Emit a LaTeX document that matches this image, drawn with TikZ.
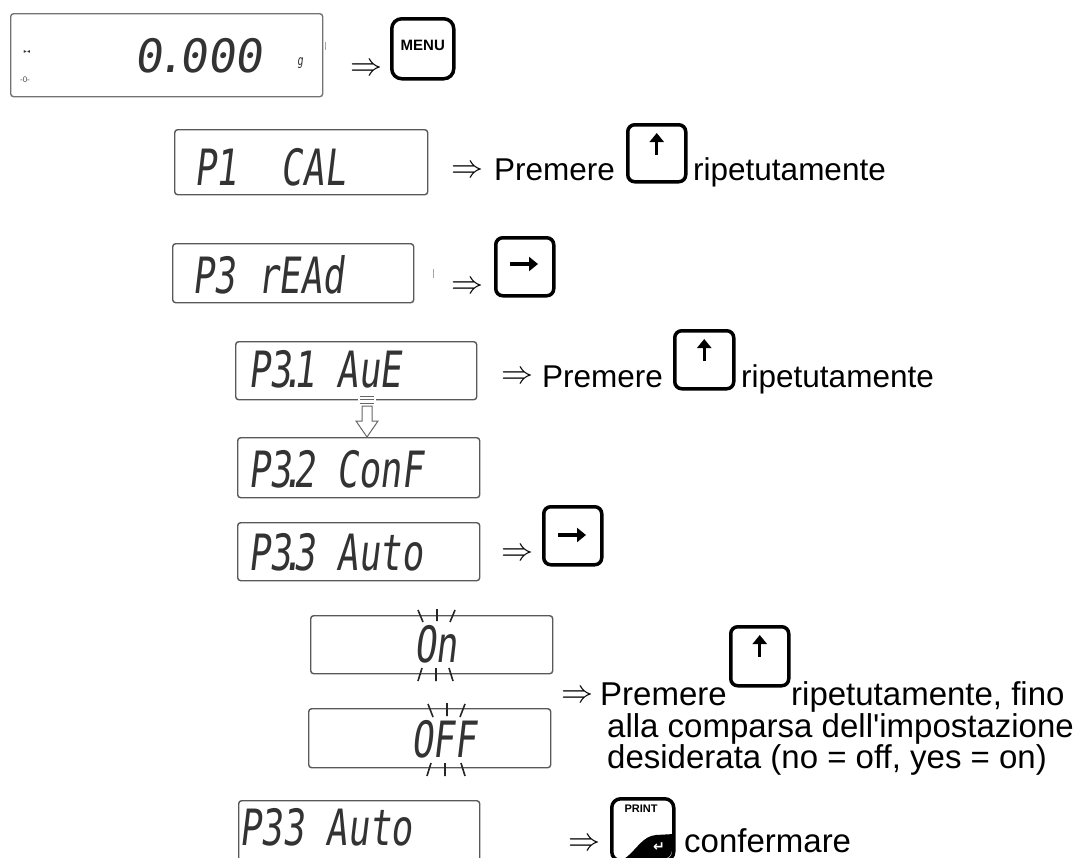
\documentclass[tikz,border=0pt]{standalone}
\usepackage{graphicx}
\usepackage{fontspec}
\usetikzlibrary{arrows.meta}
\setmainfont{Liberation Sans}
\newfontfamily\lcd[FakeSlant=0.12,FakeStretch=0.72]{DejaVu Sans Mono}
\newfontfamily\lcdw[FakeSlant=0.14]{DejaVu Sans Mono}
\newfontfamily\symf{DejaVu Sans}
\newcommand\ld{\kern-10pt.\kern-10pt}
\newcommand\implies{\scalebox{3.2}{$\Rightarrow$}}
\tikzset{
  lcdbox/.style={draw=black!65, line width=1.4pt, rounded corners=3pt, fill=white, inner sep=0pt, anchor=north west},
  keybox/.style={draw=black, line width=3.5pt, rounded corners=7pt, inner sep=0pt, anchor=north west},
  lcdtxt/.style={font=\lcd\fontsize{50}{50}\selectfont, text=black!80, inner sep=0pt, anchor=base west},
  lbl/.style={font=\fontsize{31.5}{36}\selectfont, inner sep=0pt, anchor=base west},
  lblb/.style={font=\fontsize{33}{36}\selectfont, inner sep=0pt, anchor=base west},
  imp/.style={inner sep=0pt},
  keyarrow/.style={line width=3.2pt, -{Triangle[width=14pt,length=9pt]}},
  flash/.style={line width=1.6pt, draw=black!85},
  tick/.style={line width=1pt, draw=black!35},
}
\begin{document}
\begin{tikzpicture}[x=1pt,y=-1pt]
\useasboundingbox (0,0) rectangle (1087,857);
\fill[white] (0,0) rectangle (1087,857);
\clip (0,0) rectangle (1087,857);

% ---------- row 0 : weighing display ----------
\node[lcdbox, draw=black!55, minimum width=312pt, minimum height=83pt] (b0) at (10,13) {};
\node[lcdtxt, font=\lcdw\fontsize{46}{46}\selectfont] (t0) at (134,72) {0\kern-5pt.\kern-5pt000};
\node[lcdtxt, font=\lcd\fontsize{14}{14}\selectfont] (tg) at (297,65) {g};
\node[inner sep=0pt, font=\symf\fontsize{6}{6}\selectfont, text=black!80] (stab) at (27,52) {▸◂};
\node[inner sep=0pt, font=\fontsize{8}{8}\selectfont, text=black!70] (zero) at (25,80) {-0-};
\draw[tick] (325,42) -- (325,50);
\node[imp] (a0) at (366,70) {\implies};
\node[keybox, minimum width=62pt, minimum height=60pt, rounded corners=10pt] (kmenu) at (390,17) {};
\node[inner sep=0pt, font=\bfseries\fontsize{15}{15}\selectfont] (menut) at ([yshift=3pt]kmenu.center) {MENU};

% ---------- row 1 : P1 CAL ----------
\node[lcdbox, minimum width=253pt, minimum height=65pt] (b1) at (174,129) {};
\node[lcdtxt] (t1) at (194,185) {P1\ \ CAL};
\node[imp] (a1) at (467,172) {\implies};
\node[lbl] (p1) at (494,180) {Premere};
\node[keybox, minimum width=58pt, minimum height=57pt] (k1) at (626,123) {};
\draw[keyarrow] ([yshift=-32pt]k1.north) -- ([yshift=-10pt]k1.north);
\node[lbl] (r1) at (693,180) {ripetutamente};

% ---------- row 2 : P3 rEAd ----------
\node[lcdbox, minimum width=241pt, minimum height=59pt] (b2) at (172,243) {};
\node[lcdtxt] (t2) at (192,293) {P3 rEAd};
\draw[tick] (433,269) -- (433,278);
\node[imp] (a2) at (467,288) {\implies};
\node[keybox, minimum width=58pt, minimum height=58pt] (k2) at (494,236) {};
\draw[keyarrow] ([xshift=16pt,yshift=-28pt]k2.north west) -- ([xshift=44pt,yshift=-28pt]k2.north west);

% ---------- row 3 : P3.1 AuE ----------
\node[lcdbox, minimum width=241pt, minimum height=58pt] (b31) at (235,341) {};
\node[lcdtxt] (t31) at (248,387) {P3\ld1 AuE};
\node[imp] (a31) at (517,378) {\implies};
\node[lbl] (p31) at (542,387) {Premere};
\node[keybox, minimum width=59pt, minimum height=58pt] (k31) at (673,329) {};
\draw[keyarrow] ([yshift=-32pt]k31.north) -- ([yshift=-10pt]k31.north);
\node[lbl] (r31) at (741,387) {ripetutamente};

% ---------- row 4 : P3.2 ConF ----------
\node[lcdbox, minimum width=242pt, minimum height=60pt] (b32) at (237,437) {};
\node[lcdtxt] (t32) at (248,487) {P3\ld2 ConF};

% hollow arrow between P3.1 and P3.2
\fill[white] (358,394) rectangle (376,405);
\draw[black!60, line width=1pt] (360,396) -- (374,396) (360,399.5) -- (374,399.5) (360,403) -- (374,403);
\draw[black!60, line width=1pt, fill=white] (362,406) -- (372,406) -- (372,421) -- (378,421) -- (367,437) -- (356,421) -- (362,421) -- cycle;

% ---------- row 5 : P3.3 Auto ----------
\node[lcdbox, minimum width=242pt, minimum height=58pt] (b33) at (237,522) {};
\node[lcdtxt] (t33) at (248,570) {P3\ld3 Auto};
\node[imp] (a33) at (517,555) {\implies};
\node[keybox, minimum width=58pt, minimum height=58pt] (k33) at (542,505) {};
\draw[keyarrow] ([xshift=16pt,yshift=-30pt]k33.north west) -- ([xshift=44pt,yshift=-30pt]k33.north west);

% ---------- row 6 : On ----------
\node[lcdbox, minimum width=242pt, minimum height=58pt] (bon) at (310,615) {};
\node[lcdtxt] (ton) at (414,662) {On};
\draw[flash] (418,610) -- (423,622) (437,609) -- (437,621) (455,610) -- (450,622);
\draw[flash] (422,668) -- (418,681) (436,668) -- (436,681) (449,668) -- (453,681);

% ---------- row 7 : OFF ----------
\node[lcdbox, minimum width=242pt, minimum height=59pt] (boff) at (308,708) {};
\node[lcdtxt] (toff) at (411,757) {OFF};
\draw[flash] (428,704) -- (433,717) (447,703) -- (447,716) (465,704) -- (460,717);
\draw[flash] (431,763) -- (427,776) (445,763) -- (445,776) (461,763) -- (465,776);

% text for rows 6/7
\node[imp] (aon) at (577,697) {\implies};
\node[lblb] (pon) at (600,705) {Premere};
\node[keybox, minimum width=58pt, minimum height=59pt] (kon) at (729,625) {};
\draw[keyarrow] ([yshift=-32pt]kon.north) -- ([yshift=-10pt]kon.north);
\node[lblb] (ron) at (791,705) {ripetutamente, fino};
\node[lblb] (l2) at (607,737) {alla comparsa dell\textquotesingle impostazione};
\node[lblb] (l3) at (607,768) {desiderata (no = off, yes = on)};

% ---------- row 8 : P33 Auto + PRINT ----------
\node[lcdbox, minimum width=241pt, minimum height=64pt] (blast) at (238,800) {};
\node[lcdtxt] (tlast) at (239,845) {P33 Auto};
\node[imp] (alast) at (584,845) {\implies};
\node[keybox, minimum width=62pt, minimum height=62pt, rounded corners=9pt] (kpr) at (610,797) {};
\begin{scope}
  \clip[rounded corners=9pt] (610,797) rectangle (672,859);
  \fill[black] (624,859) .. controls (636,851) and (642,836) .. (656,835) -- (674,834) -- (674,860) -- cycle;
\end{scope}
\node[inner sep=0pt, font=\bfseries\fontsize{11}{11}\selectfont] (kprt) at (641,809) {PRINT};
\node[inner sep=0pt, font=\symf\bfseries\fontsize{14}{14}\selectfont, text=white] (kpra) at (659,847) {↵};
\node[lblb] (conf) at (684,852) {confermare};
\end{tikzpicture}
\end{document}
